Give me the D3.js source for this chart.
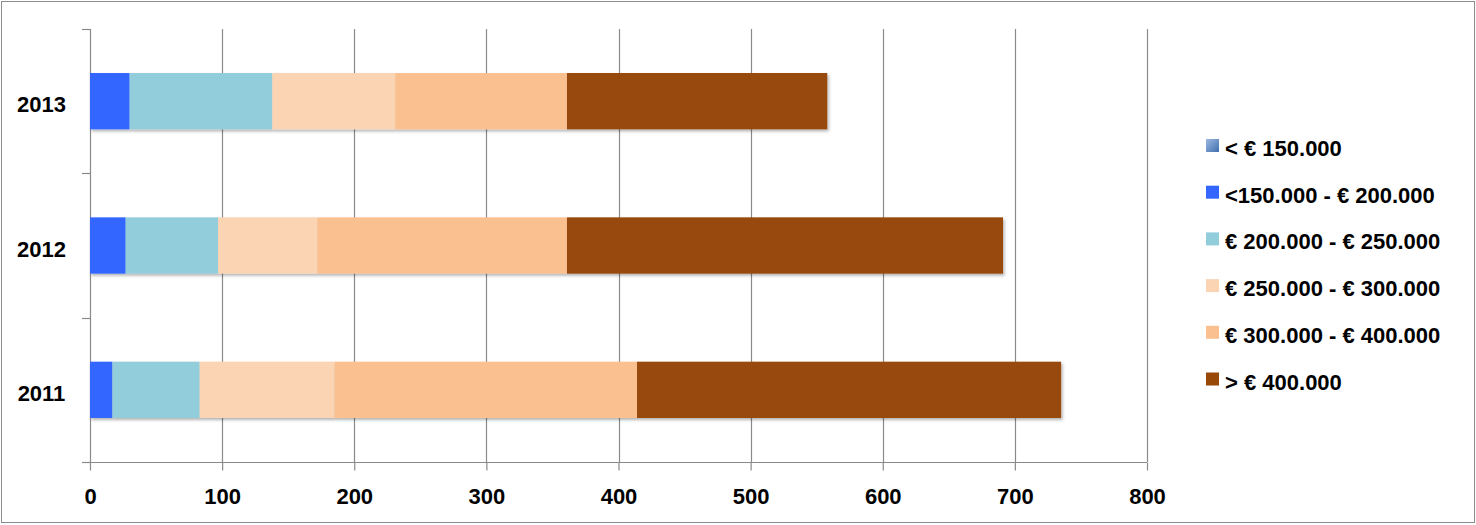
<!DOCTYPE html>
<html><head><meta charset="utf-8">
<script src="https://cdn.jsdelivr.net/npm/d3@7"></script>
<style>body{margin:0;background:#fff}svg{display:block}text{font-family:"Liberation Sans",Arial,sans-serif;font-weight:bold}</style>
</head><body><svg id="c" width="1476" height="525"></svg>
<script>
const categories = ["2013","2012","2011"];
const seriesNames = ["< € 150.000","<150.000 - € 200.000","€ 200.000 - € 250.000","€ 250.000 - € 300.000","€ 300.000 - € 400.000","> € 400.000"];
const seriesColors = ["#4F81BD","#3366FF","#92CDDC","#FBD4B4","#FAC090","#984807"];
const s0 = [0,0,0];
const s1 = [30,27,17];
const s2 = [108,70,66];
const s3 = [93,75,102];
const s4 = [130,189,229];
const s5 = [197,330,321];
const xTicks = [0,100,200,300,400,500,600,700,800];
const allSeries = [s0,s1,s2,s3,s4,s5];

const svg = d3.select("#c");
svg.append("rect").attr("x",1.5).attr("y",1.5).attr("width",1473).attr("height",521).attr("fill","#fff").attr("stroke","#8c8c8c").attr("stroke-width",1);

const defs = svg.append("defs");
const f = defs.append("filter").attr("id","sh").attr("x","-5%").attr("y","-20%").attr("width","110%").attr("height","150%");
f.append("feDropShadow").attr("dx",1.5).attr("dy",2).attr("stdDeviation",1.5).attr("flood-color","#000").attr("flood-opacity",0.3);
const g0 = defs.append("linearGradient").attr("id","lg").attr("x1",0).attr("y1",0).attr("x2",1).attr("y2",1);
g0.append("stop").attr("offset","0%").attr("stop-color","#9DB9E0");
g0.append("stop").attr("offset","100%").attr("stop-color","#3F6FAF");

const x = d3.scaleLinear().domain([0,800]).range([90,1147]);
const y = d3.scaleBand().domain(categories).range([29,462]).paddingInner(0.61).paddingOuter(0.305);
const yb = d3.scaleBand().domain(categories).range([29,462]);

// gridlines
svg.append("g").selectAll("line").data(xTicks.slice(1)).join("line")
  .attr("x1",d=>Math.round(x(d))+0.5).attr("x2",d=>Math.round(x(d))+0.5)
  .attr("y1",29).attr("y2",462).attr("stroke","#8a8a8a").attr("stroke-width",1.2);

// x axis
const xa = svg.append("g").attr("transform","translate(0,462.5)")
  .call(d3.axisBottom(x).tickValues(xTicks).tickSize(8).tickPadding(16).tickFormat(d3.format("d")));
xa.select(".domain").attr("stroke","#8a8a8a").attr("stroke-width",1.2).attr("d","M82,0H1147");
xa.selectAll(".tick line").attr("stroke","#8a8a8a").attr("stroke-width",1.2);
xa.selectAll("text").attr("font-size",22).attr("fill","#000").attr("font-family","Liberation Sans, Arial, sans-serif")
  .attr("y",41).attr("dy",null);

// y axis
svg.append("line").attr("x1",90.5).attr("x2",90.5).attr("y1",29).attr("y2",462).attr("stroke","#8a8a8a").attr("stroke-width",1.2);
const bounds = [29].concat(categories.map(c=>yb(c)+yb.bandwidth()));
svg.append("g").selectAll("line").data(bounds).join("line")
  .attr("x1",82).attr("x2",90).attr("y1",d=>Math.round(d)+0.5).attr("y2",d=>Math.round(d)+0.5)
  .attr("stroke","#8a8a8a").attr("stroke-width",1.2);
svg.append("g").selectAll("text").data(categories).join("text")
  .attr("x",41.5).attr("y",c=>yb(c)+yb.bandwidth()/2+11).attr("text-anchor","middle")
  .attr("font-size",22).attr("fill","#000").text(c=>c);

// bars
const data = categories.map((c,i)=>{const o={cat:c}; seriesNames.forEach((s,j)=>o[s]=allSeries[j][i]); return o;});
const stack = d3.stack().keys(seriesNames)(data);
const bars = svg.append("g").attr("filter","url(#sh)");
stack.forEach((layer,j)=>{
  bars.selectAll(null).data(layer.filter(d=>d[1]-d[0]>0)).join("rect")
    .attr("x",d=>x(d[0])).attr("width",d=>x(d[1])-x(d[0]))
    .attr("y",d=>y(d.data.cat)).attr("height",y.bandwidth())
    .attr("fill",seriesColors[j]);
});

// legend
const lg = svg.append("g");
seriesNames.forEach((s,i)=>{
  const base = 156 + i*46.7;
  lg.append("rect").attr("x",1206).attr("y",base-17).attr("width",13).attr("height",13)
    .attr("fill", i===0 ? "url(#lg)" : seriesColors[i]);
  lg.append("text").attr("x",1225).attr("y",base).attr("font-size",22).attr("fill","#000").text(s);
});
</script></body></html>
